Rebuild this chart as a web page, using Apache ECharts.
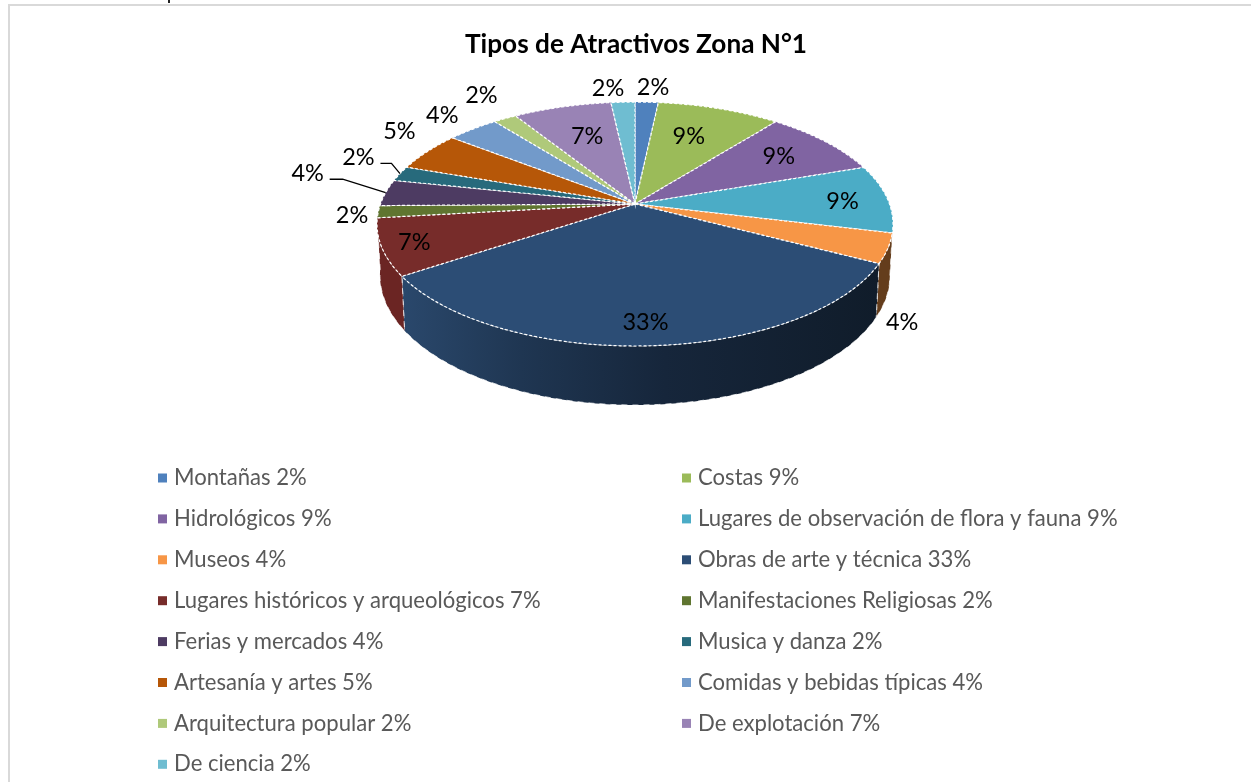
<!DOCTYPE html>
<html>
<head>
<meta charset="utf-8">
<style>html,body{margin:0;padding:0;background:#fff}#c{width:1251px;height:782px}</style>
<script src="https://cdn.jsdelivr.net/npm/echarts@6/dist/echarts.min.js"></script>
</head>
<body>
<div id="c"></div>
<script>
// ---- data ----
const categories = ['Montañas','Costas','Hidrológicos','Lugares de observación de flora y fauna','Museos','Obras de arte y técnica','Lugares históricos y arqueológicos','Manifestaciones Religiosas','Ferias y mercados','Musica y danza','Artesanía y artes','Comidas y bebidas típicas','Arquitectura popular','De explotación','De ciencia'];
const shares = [1.7,9,9,9,3.9,32.9,7.5,1.6,3.5,2,5.2,3.8,1.7,7.2,1.75];
const percentLabels = [2,9,9,9,4,33,7,2,4,2,5,4,2,7,2];
const title = 'Tipos de Atractivos Zona N°1';

// ---- styling ----
const colors = ['#4f81bd','#9bbb59','#8064a2','#4bacc6','#f79646','#2c4d75','#772c2a','#5f7530','#4d3b62','#276a7c','#b65708','#729aca','#afc97a','#9983b5','#6fbdd1'];
const wallColors = {4:'#643d1c',6:'#6b2523'};
const FONT = 'Lato';

// ---- label placement: radius factor and direction offset from slice middle ----
const labelRadius = [1.19,.68,.745,.82,1.24,.85,.877,1.10,1.374,1.24,1.237,1.22,1.30,.676,1.18];
const labelTurn   = [1,-2.3,-.5,.5,22.6,.6,0.2,-.7,6.2,4.8,5.2,.2,2.2,1.4,-3];
const leaderSlices = {8:[22,7,13],9:[22,7,11]};

// ---- projection of the tilted disc ----
const K = 0.164, RAD = Math.PI/180;
const topFace = {cx:635, cy:204, A:254.5, B:118.7};
const baseFace = {cx:635, cy:253.7, A:251.6, B:126.5};
function project(f, r, deg){
  const u = r*Math.sin(deg*RAD), v = -r*Math.cos(deg*RAD), w = 1-K*v;
  return [f.cx + f.A*u/w, f.cy + f.B*v/w];
}
const WALL_FROM = 100, WALL_TO = 263;
const total = shares.reduce((a,b)=>a+b,0);
const starts = []; shares.reduce((acc,v,i)=>{starts[i]=acc;return acc+v/total*360;},0);

function arc(f, a0, a1){
  const pts=[], n=Math.max(2,Math.ceil(Math.abs(a1-a0)));
  for(let i=0;i<=n;i++) pts.push(project(f,1,a0+(a1-a0)*i/n));
  return pts;
}
function slice(i){
  return function(params, api){
    const sweep = api.value(0)/total*360, a0=starts[i], a1=a0+sweep, mid=a0+sweep/2;
    const children=[];
    const w0=Math.max(a0,WALL_FROM), w1=Math.min(a1,WALL_TO);
    if(w1>w0){
      const topArc=arc(topFace,w0,w1), baseArc=arc(baseFace,w0,w1).reverse();
      const fill = i===5 ? new echarts.graphic.LinearGradient(0,0,1,0,[
        {offset:0,color:'#2a486c'},{offset:.25,color:'#1f3652'},{offset:.55,color:'#16263b'},{offset:1,color:'#101c2a'}])
        : wallColors[i];
      children.push({type:'polygon',shape:{points:topArc.concat(baseArc)},
        style:{fill:fill,stroke:'rgba(255,255,255,.75)',lineWidth:1,lineDash:[6,5]},z2:1});
    }
    const pts=[[topFace.cx,topFace.cy]].concat(arc(topFace,a0,a1));
    children.push({type:'polygon',shape:{points:pts},
      style:{fill:colors[i],stroke:'#fff',lineWidth:1.2,lineDash:[3,2]},z2:2});
    const lp=project(topFace,labelRadius[i],mid+labelTurn[i]);
    children.push({type:'text',x:lp[0],y:lp[1]+1,z2:10,
      style:{text:percentLabels[i]+'%',fill:'#000',font:'23.5px '+FONT,align:'center',verticalAlign:'middle'}});
    const ld=leaderSlices[i];
    if(ld){
      const s=[lp[0]+ld[0],lp[1]+ld[1]], e=[s[0]+ld[2],s[1]], end=project(topFace,1,mid);
      children.push({type:'polyline',shape:{points:[s,e,end]},style:{stroke:'#000',lineWidth:1.3,fill:null},z2:9});
    }
    return {type:'group',children:children};
  };
}
const names = categories.map((c,i)=>c+' '+percentLabels[i]+'%');
const series = names.map((n,i)=>({
  type:'custom',name:n,coordinateSystem:'none',silent:true,
  itemStyle:{color:colors[i]},
  data:[shares[i]],renderItem:slice(i)
}));
const legendBase = {
  orient:'vertical',top:461,height:320,itemWidth:9,itemHeight:9,itemGap:16.9,icon:'rect',
  selectedMode:false,
  textStyle:{fontFamily:FONT,fontSize:22.1,color:'#595959',lineHeight:24,padding:[0,0,0,2]}
};
const chart = echarts.init(document.getElementById('c'),null,{renderer:'canvas'});
chart.setOption({
  animation:false,
  backgroundColor:'#fff',
  title:{text:title,left:460,top:27,textStyle:{fontFamily:FONT,fontSize:26.2,fontWeight:'bold',color:'#000'}},
  legend:[
    Object.assign({},legendBase,{left:153,data:names.filter((_,i)=>i%2===0)}),
    Object.assign({},legendBase,{left:677,data:names.filter((_,i)=>i%2===1)})
  ],
  graphic:[
    {type:'polyline',shape:{points:[[9,782],[9,5],[1251,5]]},style:{fill:'none',stroke:'#d9d9d9',lineWidth:2},silent:true},
    {type:'rect',shape:{x:168,y:0,width:2,height:3},style:{fill:'#222'},silent:true}
  ],
  series:series
});
</script>
</body>
</html>
